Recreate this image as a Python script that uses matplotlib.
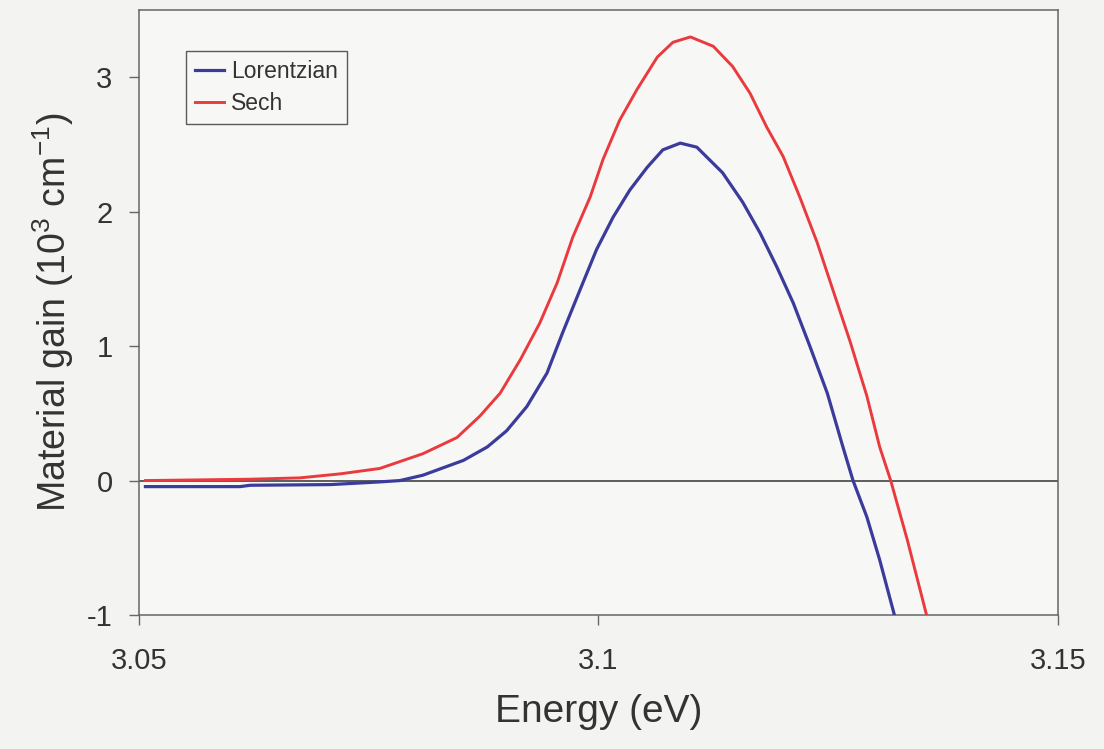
import matplotlib
matplotlib.use("Agg")
import matplotlib.pyplot as plt

plt.rcParams['font.family'] = ['Liberation Sans', 'DejaVu Sans']
plt.rcParams['mathtext.fontset'] = 'custom'
plt.rcParams['mathtext.rm'] = 'Liberation Sans'
plt.rcParams['mathtext.default'] = 'regular'
plt.rcParams['axes.unicode_minus'] = False

# gain spectra, energy in eV, gain in 10^3 cm^-1
lor_energy = [3.0507, 3.0610, 3.0621, 3.0708, 3.0762, 3.0784, 3.0809, 3.0853,
              3.0879, 3.0900, 3.0922, 3.0944, 3.0961, 3.0980, 3.0998, 3.1016,
              3.1034, 3.1053, 3.1070, 3.1089, 3.1107, 3.1135, 3.1157, 3.1176,
              3.1194, 3.1212, 3.1230, 3.1249, 3.1266, 3.1277, 3.1292, 3.1306,
              3.1322]
lor_gain = [-0.045, -0.045, -0.035, -0.03, -0.01, 0.0, 0.04, 0.15,
            0.25, 0.37, 0.55, 0.80, 1.10, 1.42, 1.72, 1.96,
            2.16, 2.33, 2.46, 2.51, 2.48, 2.29, 2.07, 1.84,
            1.59, 1.32, 1.00, 0.65, 0.25, 0.0, -0.27, -0.59,
            -1.0]

sech_energy = [3.0507, 3.0621, 3.0675, 3.0719, 3.0762, 3.0809, 3.0846, 3.0871,
               3.0893, 3.0915, 3.0936, 3.0955, 3.0972, 3.0991, 3.1005, 3.1023,
               3.1042, 3.1064, 3.1081, 3.1100, 3.1125, 3.1146, 3.1165, 3.1183,
               3.1201, 3.1219, 3.1238, 3.1255, 3.1274, 3.1292, 3.1306, 3.1318,
               3.1336, 3.1357]
sech_gain = [0.0, 0.01, 0.02, 0.05, 0.09, 0.20, 0.32, 0.48,
             0.65, 0.90, 1.17, 1.47, 1.81, 2.11, 2.39, 2.68,
             2.91, 3.15, 3.26, 3.30, 3.23, 3.08, 2.88, 2.63,
             2.41, 2.11, 1.77, 1.42, 1.03, 0.63, 0.25, 0.0,
             -0.44, -1.0]

x_ticks = [3.05, 3.1, 3.15]
x_labels = ['3.05', '3.1', '3.15']
y_ticks = [-1, 0, 1, 2, 3]

fig = plt.figure(figsize=(11.04, 7.49), dpi=100, facecolor='#f3f3f1')
ax = fig.add_axes([0.1259, 0.1789, 0.8324, 0.8077], facecolor='#f7f7f5')

ax.axhline(0, color='#333333', linewidth=1.1, zorder=1)
ax.plot(lor_energy, lor_gain, color='#3b3b9c', linewidth=2.3, label='Lorentzian', zorder=3)
ax.plot(sech_energy, sech_gain, color='#ea3a3e', linewidth=2.1, label='Sech', zorder=3)

ax.set_xlim(3.05, 3.15)
ax.set_ylim(-1, 3.5)
ax.set_xticks(x_ticks)
ax.set_xticklabels(x_labels)
ax.set_yticks(y_ticks)

for s in ax.spines.values():
    s.set_color('#666666')
    s.set_linewidth(1.1)

ax.tick_params(axis='x', direction='out', length=7, width=1, color='#666666',
               pad=16, labelsize=21, labelcolor='#333333')
ax.tick_params(axis='y', direction='out', length=7, width=1, color='#666666',
               pad=12, labelsize=21, labelcolor='#333333')

ax.set_xlabel('Energy (eV)', fontsize=28, color='#333333', labelpad=14)
ax.set_ylabel('Material gain (10$^3$ cm$^{-1}$)', fontsize=27, color='#333333', labelpad=8)

leg = ax.legend(loc='upper left', bbox_to_anchor=(0.051, 0.932), fontsize=16.5,
                frameon=True, fancybox=False, borderpad=0.38, labelspacing=0.4,
                handlelength=1.3, handletextpad=0.3, borderaxespad=0)
leg.get_frame().set_edgecolor('#333333')
leg.get_frame().set_linewidth(1.0)
leg.get_frame().set_facecolor('#f7f7f5')
for t in leg.get_texts():
    t.set_color('#333333')

fig.savefig('out.png', dpi=100, facecolor=fig.get_facecolor())
